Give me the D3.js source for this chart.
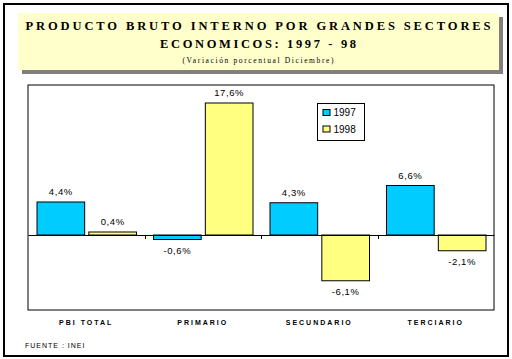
<!DOCTYPE html>
<html>
<head>
<meta charset="utf-8">
<script src="https://cdn.jsdelivr.net/npm/d3@7"></script>
<style>
  html, body { margin: 0; padding: 0; background: #fff; }
  svg { display: block; }
</style>
</head>
<body>
<div id="chart"></div>
<script>
const categories = ['PBI TOTAL', 'PRIMARIO', 'SECUNDARIO', 'TERCIARIO'];
const series = ['1997', '1998'];
const values1997 = [4.4, -0.6, 4.3, 6.6];
const values1998 = [0.4, 17.6, -6.1, -2.1];
const titleLines = ['PRODUCTO BRUTO INTERNO POR GRANDES SECTORES', 'ECONOMICOS: 1997 - 98', '(Variación porcentual Diciembre)'];
const source = 'FUENTE : INEI';

const width = 512;
const height = 359;
const plot = { left: 28, top: 85, right: 494, bottom: 310 };
const colors = { '1997': '#00ccff', '1998': '#ffff80' };

const svg = d3.select('#chart')
  .append('svg')
  .attr('width', width)
  .attr('height', height);

// outer frame
svg.append('rect')
  .attr('x', 4).attr('y', 4)
  .attr('width', 504).attr('height', 352)
  .attr('fill', '#fff')
  .attr('stroke', '#000')
  .attr('stroke-width', 2);

// title box with shadow
svg.append('rect')
  .attr('x', 22).attr('y', 17)
  .attr('width', 481).attr('height', 57)
  .attr('fill', '#808080');
svg.append('rect')
  .attr('x', 18).attr('y', 13)
  .attr('width', 481).attr('height', 57)
  .attr('fill', '#ffffcc');

const titleSpecs = [
  { y: 30, size: 12.5, len: 465, weight: 'bold' },
  { y: 48, size: 12.5, len: 196, weight: 'bold' },
  { y: 63, size: 7.5, len: 151, weight: 'normal' },
];
titleLines.forEach((t, i) => {
  svg.append('text')
    .attr('x', 258)
    .attr('y', titleSpecs[i].y)
    .attr('text-anchor', 'middle')
    .attr('font-family', '"Liberation Serif", "Times New Roman", serif')
    .attr('font-weight', titleSpecs[i].weight)
    .attr('font-size', titleSpecs[i].size)
    .attr('textLength', titleSpecs[i].len)
    .attr('lengthAdjust', 'spacing')
    .text(t);
});

// plot area
svg.append('rect')
  .attr('x', plot.left).attr('y', plot.top)
  .attr('width', plot.right - plot.left)
  .attr('height', plot.bottom - plot.top)
  .attr('fill', '#fff')
  .attr('stroke', '#000')
  .attr('stroke-width', 1);

const x0 = d3.scaleBand()
  .domain(categories)
  .range([plot.left, plot.right])
  .padding(0);

const x1 = d3.scaleBand()
  .domain(series)
  .range([9, x0.bandwidth() - 8])
  .paddingInner(0.08);

const y = d3.scaleLinear()
  .domain([-10, 20])
  .range([plot.bottom, plot.top]);

const rows = categories.map((c, i) => ({
  category: c,
  values: [
    { key: '1997', value: values1997[i] },
    { key: '1998', value: values1998[i] },
  ],
}));

const fmt = v => d3.format('.1f')(v).replace('.', ',').replace('−', '-') + '%';

const groups = svg.append('g')
  .selectAll('g')
  .data(rows)
  .join('g')
  .attr('transform', d => `translate(${x0(d.category)},0)`);

groups.selectAll('rect')
  .data(d => d.values)
  .join('rect')
  .attr('x', d => x1(d.key))
  .attr('y', d => y(Math.max(0, d.value)))
  .attr('width', x1.bandwidth())
  .attr('height', d => Math.abs(y(d.value) - y(0)))
  .attr('fill', d => colors[d.key])
  .attr('stroke', '#000')
  .attr('stroke-width', 1);

groups.selectAll('text')
  .data(d => d.values)
  .join('text')
  .attr('x', d => x1(d.key) + x1.bandwidth() / 2)
  .attr('y', d => d.value >= 0 ? y(d.value) - 7 : y(d.value) + 14)
  .attr('text-anchor', 'middle')
  .attr('font-family', '"Liberation Sans", Arial, sans-serif')
  .attr('font-size', 9.5)
  .attr('letter-spacing', 0.6)
  .text(d => fmt(d.value));

// zero axis with ticks
const zeroAxis = d3.axisBottom(x0)
  .tickValues([])
  .tickSizeOuter(0);
svg.append('g')
  .attr('transform', `translate(0,${y(0)})`)
  .call(zeroAxis)
  .call(g => g.select('.domain').attr('stroke', '#000'));

svg.append('g')
  .selectAll('line')
  .data(categories.slice(1))
  .join('line')
  .attr('x1', d => Math.round(x0(d)) + 0.5)
  .attr('x2', d => Math.round(x0(d)) + 0.5)
  .attr('y1', y(0))
  .attr('y2', y(0) + 4)
  .attr('stroke', '#000');

// category labels
svg.append('g')
  .selectAll('text')
  .data(categories)
  .join('text')
  .attr('x', d => x0(d) + x0.bandwidth() / 2)
  .attr('y', 325)
  .attr('text-anchor', 'middle')
  .attr('font-family', '"Liberation Sans", Arial, sans-serif')
  .attr('font-weight', 'bold')
  .attr('font-size', 7)
  .attr('letter-spacing', 2)
  .text(d => d);

// source
svg.append('text')
  .attr('x', 25)
  .attr('y', 348)
  .attr('font-family', '"Liberation Sans", Arial, sans-serif')
  .attr('font-size', 7)
  .attr('letter-spacing', 1)
  .text(source);

// legend
const legend = svg.append('g').attr('transform', 'translate(317.5,103.5)');
legend.append('rect')
  .attr('width', 47).attr('height', 37)
  .attr('fill', '#fff')
  .attr('stroke', '#000');
series.forEach((s, i) => {
  legend.append('rect')
    .attr('x', 5.5).attr('y', 6 + i * 16.5)
    .attr('width', 7).attr('height', 6)
    .attr('fill', colors[s])
    .attr('stroke', '#000');
  legend.append('text')
    .attr('x', 16)
    .attr('y', 12.5 + i * 16.5)
    .attr('font-family', '"Liberation Sans", Arial, sans-serif')
    .attr('font-size', 10)
    .text(s);
});
</script>
</body>
</html>
